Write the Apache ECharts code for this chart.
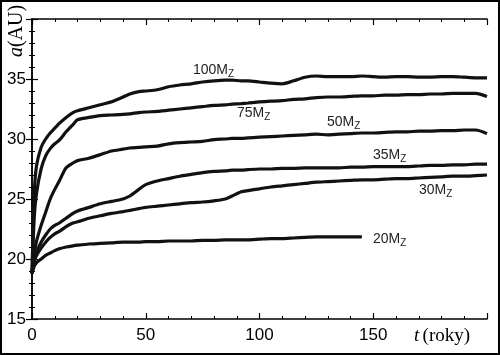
<!DOCTYPE html>
<html>
<head>
<meta charset="utf-8">
<script src="https://cdn.jsdelivr.net/npm/echarts@6/dist/echarts.min.js"></script>
<style>
html,body{margin:0;padding:0;background:#fff;}
#c{width:500px;height:355px;}
</style>
</head>
<body>
<div id="c"></div>
<script>
// time (years)
const tYears = [0,1,2,4,6,8,10,12,15,18,20,25,30,35,40,43,47,50,55,60,65,70,75,80,85,88,92,95,100,105,110,115,120,125,130,135,140,145,150,155,160,165,170,175,180,185,190,195,200];
const a100 = [18.8,25.5,27.8,29.3,30.0,30.5,30.9,31.3,31.8,32.2,32.35,32.6,32.85,33.1,33.5,33.75,33.95,34.0,34.1,34.35,34.5,34.6,34.75,34.85,34.9,34.9,34.85,34.85,34.75,34.65,34.6,34.85,35.15,35.25,35.2,35.2,35.2,35.25,35.2,35.15,35.2,35.2,35.15,35.15,35.2,35.2,35.15,35.1,35.1];
const a75 = [18.8,23.5,25.5,27.5,28.6,29.2,29.6,29.9,30.6,31.2,31.6,31.8,31.95,32.0,32.05,32.1,32.2,32.25,32.3,32.4,32.5,32.6,32.7,32.8,32.85,32.9,32.95,33.0,33.1,33.15,33.2,33.3,33.35,33.45,33.5,33.5,33.55,33.6,33.6,33.65,33.65,33.7,33.7,33.75,33.75,33.8,33.8,33.8,33.55];
const a50 = [18.8,20.5,21.5,22.8,23.9,25.0,25.8,26.5,27.6,28.0,28.2,28.4,28.7,29.0,29.15,29.25,29.3,29.35,29.4,29.6,29.7,29.75,29.8,29.95,30.0,30.05,30.05,30.1,30.15,30.2,30.25,30.3,30.35,30.4,30.35,30.4,30.45,30.5,30.5,30.55,30.6,30.6,30.65,30.65,30.7,30.7,30.75,30.75,30.45];
const a35 = [18.8,20.0,20.6,21.4,22.0,22.5,22.8,23.0,23.4,23.8,24.0,24.3,24.6,24.8,25.0,25.25,25.8,26.2,26.5,26.7,26.9,27.05,27.2,27.3,27.35,27.4,27.4,27.45,27.5,27.5,27.55,27.55,27.6,27.6,27.6,27.6,27.65,27.65,27.7,27.7,27.7,27.7,27.75,27.8,27.8,27.85,27.85,27.9,27.9];
const a30 = [18.8,19.8,20.3,20.9,21.4,21.8,22.1,22.3,22.7,23.0,23.1,23.4,23.6,23.8,23.95,24.05,24.2,24.3,24.4,24.5,24.6,24.7,24.75,24.85,25.0,25.25,25.6,25.7,25.85,26.0,26.1,26.2,26.3,26.4,26.45,26.5,26.55,26.6,26.6,26.65,26.7,26.7,26.75,26.8,26.85,26.9,26.9,26.95,27.0];
const a20 = [18.8,19.4,19.7,20.0,20.3,20.5,20.7,20.85,21.0,21.1,21.15,21.25,21.3,21.35,21.4,21.4,21.4,21.45,21.45,21.5,21.5,21.5,21.55,21.55,21.6,21.6,21.6,21.6,21.65,21.7,21.7,21.75,21.8,21.85,21.85,21.85,21.85,21.85,null,null,null,null,null,null,null,null,null,null,null];
const seriesNames = ['100','75','50','35','30','20'];
const xTickLabels = ['0','50','100','150'];
const yTickLabels = ['15','20','25','30','35'];

const allSeries = [a100,a75,a50,a35,a30,a20];
const chart = echarts.init(document.getElementById('c'), null, {renderer:'canvas'});

function pairs(vals){ return tYears.map((t,i)=>[t, vals[i]]); }

const axisCommon = {
  axisLine:{show:true, lineStyle:{color:'#000', width:1.5}},
  splitLine:{show:false},
  minorTick:{show:true, splitNumber:5, length:3, lineStyle:{color:'#000', width:1}},
  axisTick:{show:true, inside:true, length:6, lineStyle:{color:'#000', width:1.2}}
};
axisCommon.minorTick.inside = true;

const opt = {
  animation:false,
  backgroundColor:'#fff',
  grid:{left:32, right:13, top:19, bottom:36},
  xAxis:[
    Object.assign({}, axisCommon, {
      type:'value', min:0, max:200, interval:50, position:'bottom',
      axisLabel:{show:true, margin:8, color:'#000', fontFamily:'Liberation Sans', fontSize:17,
        formatter:function(v){ const s=String(v); return xTickLabels.indexOf(s)>=0 ? s : ''; }}
    }),
    Object.assign({}, axisCommon, {
      type:'value', min:0, max:200, interval:50, position:'top',
      axisLabel:{show:false}
    })
  ],
  yAxis:[
    Object.assign({}, axisCommon, {
      type:'value', min:15, max:40, interval:5, position:'left',
      axisLabel:{show:true, margin:6, color:'#000', fontFamily:'Liberation Sans', fontSize:17,
        formatter:function(v){ const s=String(v); return yTickLabels.indexOf(s)>=0 ? s : ''; }}
    }),
    Object.assign({}, axisCommon, {
      type:'value', min:15, max:40, interval:5, position:'right',
      axisLabel:{show:false}
    })
  ],
  series: allSeries.map((vals,k)=>({
    name: seriesNames[k]+'MZ',
    type:'line', xAxisIndex:0, yAxisIndex:0,
    data: pairs(vals),
    showSymbol:false, smooth:0.25, connectNulls:false,
    lineStyle:{color:'#111', width:3.2},
    z:3
  })),
  graphic:[
    {type:'rect', shape:{x:1, y:1, width:498, height:353}, style:{fill:'none', stroke:'#000', lineWidth:2}, z:100},
    {type:'text', x:17, y:31, rotation:Math.PI/2, style:{
      text:'{i|a}{n|(AU)}', align:'center', verticalAlign:'middle',
      rich:{i:{fontFamily:'Liberation Serif', fontStyle:'italic', fontSize:20, fill:'#000'},
            n:{fontFamily:'Liberation Serif', fontSize:20, fill:'#000'}}
    }},
    {type:'text', x:442, y:336, style:{
      text:'{i|t} {n|(roky)}', align:'center', verticalAlign:'middle',
      rich:{i:{fontFamily:'Liberation Serif', fontStyle:'italic', fontSize:19, fill:'#000'},
            n:{fontFamily:'Liberation Serif', fontSize:19, fill:'#000'}}
    }}
  ]
};

const labelPos = [[193,70],[237,113],[327,122],[373,155],[419,190],[373,239]];
seriesNames.forEach((n,k)=>{
  opt.graphic.push({type:'text', x:labelPos[k][0], y:labelPos[k][1], style:{
    text:'{m|'+n+'M}{s|Z}', align:'left', verticalAlign:'middle',
    rich:{m:{fontFamily:'Liberation Sans', fontSize:14, fill:'#222'},
          s:{fontFamily:'Liberation Sans', fontSize:10, fill:'#222', padding:[8,0,0,0]}}
  }});
});

chart.setOption(opt);
</script>
</body>
</html>
